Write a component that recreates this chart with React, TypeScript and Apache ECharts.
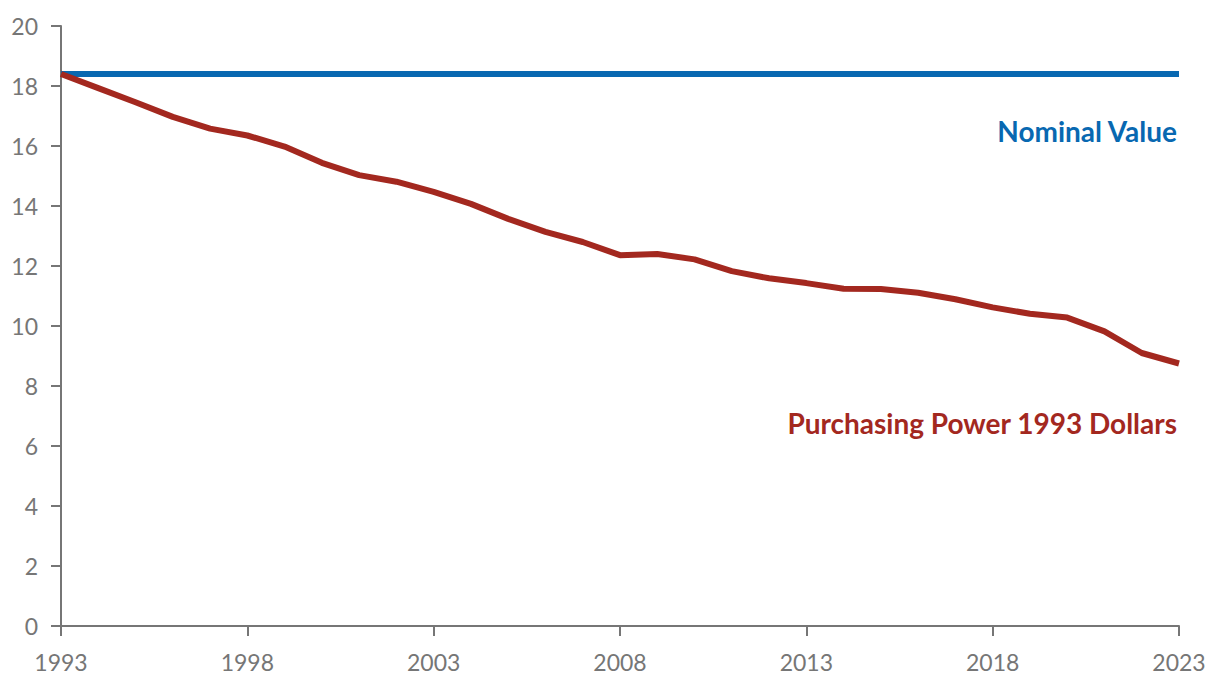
import React, { useEffect, useRef } from "react";
import * as echarts from "echarts";

const years: string[] = [
  "1993","1994","1995","1996","1997","1998","1999","2000","2001","2002",
  "2003","2004","2005","2006","2007","2008","2009","2010","2011","2012",
  "2013","2014","2015","2016","2017","2018","2019","2020","2021","2022","2023",
];

const nominalValue: number[] = years.map(() => 18.4);

const purchasingPower: number[] = [
  18.4, 17.93, 17.46, 16.97, 16.58, 16.35, 15.98, 15.44, 15.03, 14.81,
  14.47, 14.07, 13.57, 13.14, 12.8, 12.36, 12.4, 12.22, 11.83, 11.59,
  11.43, 11.24, 11.23, 11.11, 10.89, 10.62, 10.41, 10.28, 9.82, 9.1, 8.75,
];

const yTicks = { min: 0, max: 20, interval: 2 };

const BLUE = "#0868b1";
const RED = "#a3281f";
const AXIS = "#767676";
const FONT = "Lato, 'Open Sans', sans-serif";

export default function App() {
  const ref = useRef<HTMLDivElement>(null);
  useEffect(() => {
    if (!ref.current) return;
    const chart = echarts.init(ref.current, undefined, { renderer: "svg" });
    chart.setOption({
      animation: false,
      backgroundColor: "#ffffff",
      grid: { left: 61, right: 41, top: 26, bottom: 62, containLabel: false },
      xAxis: {
        type: "category",
        data: years,
        boundaryGap: false,
        axisLine: { show: true, lineStyle: { color: AXIS, width: 2 } },
        axisTick: { show: true, interval: 4, length: 10, lineStyle: { color: AXIS, width: 2 } },
        axisLabel: { interval: 4, margin: 24, color: AXIS, fontSize: 23, fontFamily: FONT },
        splitLine: { show: false },
      },
      yAxis: {
        type: "value",
        min: yTicks.min,
        max: yTicks.max,
        interval: yTicks.interval,
        axisLine: { show: true, lineStyle: { color: AXIS, width: 2 } },
        axisTick: { show: true, length: 10, lineStyle: { color: AXIS, width: 2 } },
        axisLabel: { margin: 23, color: AXIS, fontSize: 23, fontFamily: FONT },
        splitLine: { show: false },
      },
      series: [
        {
          name: "Nominal Value",
          type: "line",
          data: nominalValue,
          showSymbol: false,
          lineStyle: { color: BLUE, width: 6 },
          itemStyle: { color: BLUE },
          z: 2,
        },
        {
          name: "Purchasing Power 1993 Dollars",
          type: "line",
          data: purchasingPower,
          showSymbol: false,
          lineStyle: { color: RED, width: 6 },
          itemStyle: { color: RED },
          z: 3,
        },
      ],
      graphic: [
        {
          type: "text",
          x: 1177,
          y: 131,
          style: {
            text: "Nominal Value",
            fill: BLUE,
            font: `bold 28px ${FONT}`,
            align: "right",
            verticalAlign: "middle",
          },
        },
        {
          type: "text",
          x: 1177,
          y: 423,
          style: {
            text: "Purchasing Power 1993 Dollars",
            fill: RED,
            font: `bold 28px ${FONT}`,
            align: "right",
            verticalAlign: "middle",
          },
        },
      ],
    });
    return () => chart.dispose();
  }, []);
  return (
    <div
      ref={ref}
      style={{ position: "fixed", left: 0, top: 0, width: 1220, height: 688, background: "#fff" }}
    />
  );
}
